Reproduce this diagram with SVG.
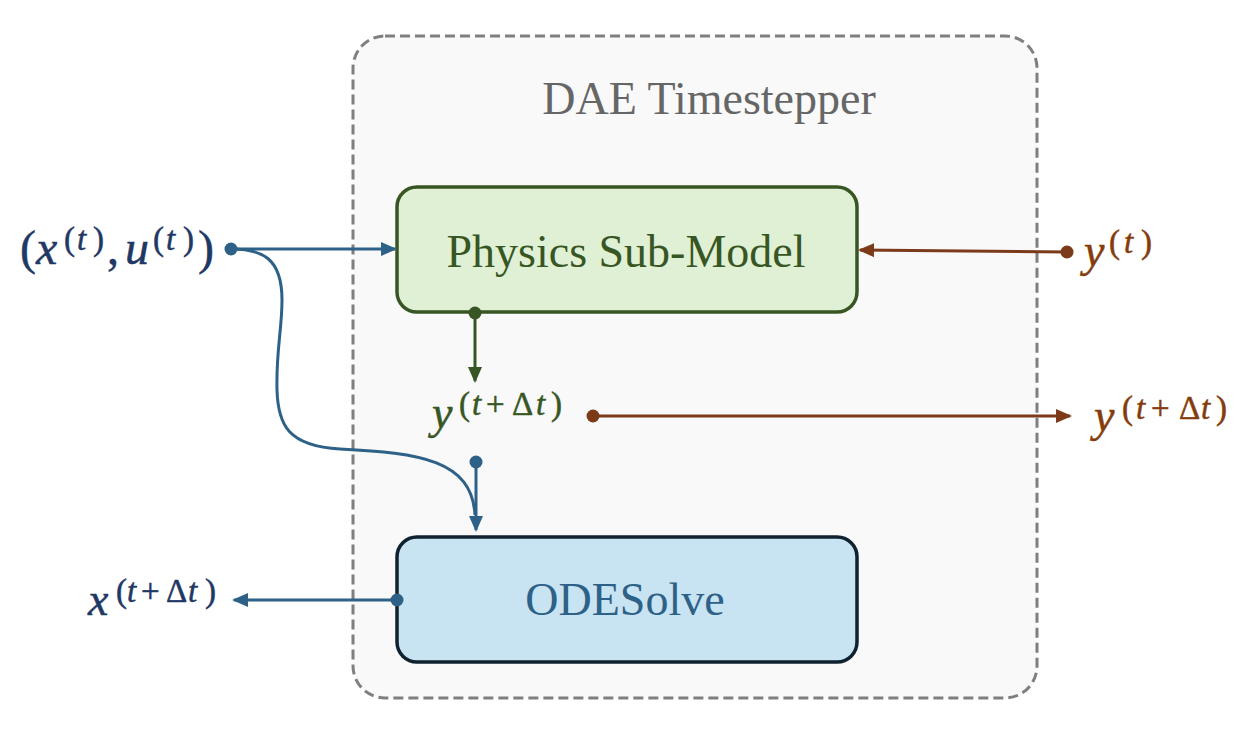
<svg xmlns="http://www.w3.org/2000/svg" width="1238" height="744" viewBox="0 0 1238 744">
<style>
.lbl{font-family:"Liberation Serif","Times New Roman",serif;font-size:46px;text-anchor:middle}
.m{font-family:"Liberation Serif","Times New Roman",serif;stroke-width:0.5}
.it{font-style:italic}
.blue{stroke:#2e6187;fill:none;stroke-width:3}
.green{stroke:#375623;fill:none;stroke-width:3}
.brown{stroke:#7b3a1a;fill:none;stroke-width:3}
</style>
<defs>
<marker id="ab" viewBox="0 0 16 14" refX="14" refY="7" markerWidth="16" markerHeight="14" markerUnits="userSpaceOnUse" orient="auto"><path d="M0,0 L16,7 L0,14 z" fill="#2e6187"/></marker>
<marker id="ag" viewBox="0 0 16 14" refX="14" refY="7" markerWidth="16" markerHeight="14" markerUnits="userSpaceOnUse" orient="auto"><path d="M0,0 L16,7 L0,14 z" fill="#375623"/></marker>
<marker id="ar" viewBox="0 0 16 14" refX="14" refY="7" markerWidth="16" markerHeight="14" markerUnits="userSpaceOnUse" orient="auto"><path d="M0,0 L16,7 L0,14 z" fill="#7b3a1a"/></marker>
</defs>
<rect width="1238" height="744" fill="#ffffff"/>
<g id="dae">
<rect x="353" y="36" width="684" height="662" rx="32" fill="#f9f9f9" stroke="#7f7f7f" stroke-width="3" stroke-dasharray="10 5"/>
<text x="709" y="114" class="lbl" fill="#666666">DAE Timestepper</text>
</g>
<g id="physics">
<rect x="397" y="187" width="460" height="125" rx="20" fill="#dff0d4" stroke="#375623" stroke-width="3.5"/>
<text x="626" y="267" class="lbl" fill="#375623">Physics Sub-Model</text>
</g>
<g id="odesolve">
<rect x="397" y="537" width="460" height="125" rx="20" fill="#c8e3f1" stroke="#10222f" stroke-width="3.5"/>
<text x="625" y="615" class="lbl" fill="#2e6187">ODESolve</text>
</g>
<g id="connectors">
<line x1="231" y1="249" x2="395" y2="249" class="blue" marker-end="url(#ab)"/>
<path d="M231,249 C262,249 282,258 282,300 C282,330 276,350 277,390 C278,425 288,446 340,449 C420,453 472,460 475,515" class="blue"/>
<line x1="476" y1="462" x2="476" y2="530" class="blue" marker-end="url(#ab)"/>
<line x1="397" y1="600" x2="234" y2="600" class="blue" marker-end="url(#ab)"/>
<line x1="475" y1="313" x2="475" y2="381" class="green" marker-end="url(#ag)"/>
<line x1="1067" y1="252" x2="860" y2="250" class="brown" marker-end="url(#ar)"/>
<line x1="593" y1="416" x2="1070" y2="416" class="brown" marker-end="url(#ar)"/>
<circle cx="231" cy="249" r="6.5" fill="#2e6187"/>
<circle cx="476" cy="462" r="6.5" fill="#2e6187"/>
<circle cx="397" cy="600" r="6.5" fill="#2e6187"/>
<circle cx="475" cy="313" r="6.5" fill="#375623"/>
<circle cx="1067" cy="252" r="6.5" fill="#7b3a1a"/>
<circle cx="593" cy="416" r="6.5" fill="#7b3a1a"/>
</g>
<g id="label-xu" class="m" fill="#1f3864" stroke="#1f3864">
<text y="264" font-size="48"><tspan x="20">(</tspan><tspan x="36" class="it">x</tspan><tspan x="107">,</tspan><tspan x="125" class="it">u</tspan><tspan x="198">)</tspan></text>
<text y="250" font-size="33"><tspan x="64">(</tspan><tspan x="77" class="it">t</tspan><tspan x="93">)</tspan><tspan x="153">(</tspan><tspan x="166" class="it">t</tspan><tspan x="183">)</tspan></text>
</g>
<g id="label-yt" class="m" fill="#843c0c" stroke="#843c0c">
<text y="266" font-size="46"><tspan x="1084" class="it">y</tspan></text>
<text y="253" font-size="33"><tspan x="1109">(</tspan><tspan x="1124" class="it">t</tspan><tspan x="1141">)</tspan></text>
</g>
<g id="label-ydt-out" class="m" fill="#843c0c" stroke="#843c0c">
<text y="431" font-size="46"><tspan x="1094" class="it">y</tspan></text>
<text y="419" font-size="33"><tspan x="1122">(</tspan><tspan x="1136" class="it">t</tspan><tspan x="1151">+</tspan><tspan x="1179">Δ</tspan><tspan x="1201" class="it">t</tspan><tspan x="1216">)</tspan></text>
</g>
<g id="label-ydt" class="m" fill="#375623" stroke="#375623">
<text y="428" font-size="46"><tspan x="432" class="it">y</tspan></text>
<text y="415" font-size="33"><tspan x="459">(</tspan><tspan x="472" class="it">t</tspan><tspan x="486">+</tspan><tspan x="512">Δ</tspan><tspan x="536" class="it">t</tspan><tspan x="551">)</tspan></text>
</g>
<g id="label-xdt" class="m" fill="#1f3864" stroke="#1f3864">
<text y="615" font-size="46"><tspan x="88" class="it">x</tspan></text>
<text y="602" font-size="33"><tspan x="116">(</tspan><tspan x="127" class="it">t</tspan><tspan x="141">+</tspan><tspan x="166">Δ</tspan><tspan x="188" class="it">t</tspan><tspan x="205">)</tspan></text>
</g>
</svg>
